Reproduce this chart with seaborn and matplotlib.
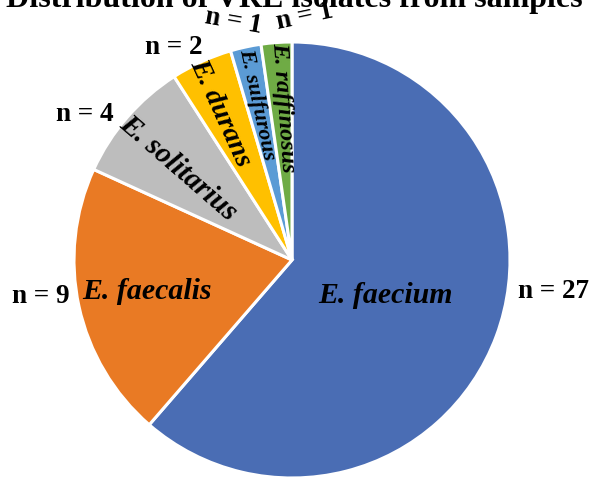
import numpy as np
import matplotlib
matplotlib.use("Agg")
import matplotlib.pyplot as plt
import seaborn as sns

# VRE isolate counts per Enterococcus species
species = ["E. faecium", "E. faecalis", "E. solitarius", "E. durans", "E. sulfurous", "E. raffinosus"]
counts = [27, 9, 4, 2, 1, 1]
count_labels = [f"n = {c}" for c in counts]
title = "Distribution of VRE isolates from samples"

colors = ["#4A6DB4", "#E97A24", "#BDBDBD", "#FFC000", "#5B9BD5", "#6FAB45"]

# label layout: (radius fraction, angle offset in degrees, font size)
inner_layout = [(0.46, 0, 21.5), (0.68, 0, 21.5), (0.67, 2, 21), (0.75, 1.5, 20.5), (0.73, 0.5, 16), (0.70, -0.7, 17.5)]
outer_layout = [(1.21, 13.5, 0), (1.165, -3.9, 0), (1.16, 5.9, 0), (1.117, 4.5, 0), (1.125, 1.6, -10), (1.116, -7.2, 12)]

sns.set_theme(style="white")
plt.rcParams["font.family"] = ["Liberation Serif", "DejaVu Serif"]

W, H = 593, 478
fig = plt.figure(figsize=(W / 100, H / 100), dpi=100)
ax = fig.add_axes([0, 0, 1, 1])
cx, cy, R = 292, 260, 218

wedges, _ = ax.pie(counts, colors=colors, startangle=90, counterclock=False,
                   radius=1.0, wedgeprops=dict(edgecolor="white", linewidth=2.2))

# one data unit = R pixels in both directions, pie centred at (cx, cy)
ax.set_aspect("auto")
ax.set_xlim(-cx / R, (W - cx) / R)
ax.set_ylim((cy - H) / R, cy / R)
ax.axis("off")

for w, name, cnt, (ri, di, fs), (ro, do, rot) in zip(wedges, species, count_labels, inner_layout, outer_layout):
    mid = 0.5 * (w.theta1 + w.theta2)
    a = np.deg2rad(mid + di)
    # horizontal text for large slices, radial text for narrow ones
    if w.theta2 - w.theta1 > 60:
        trot = 0
    else:
        trot = mid - 180
    ax.text(ri * np.cos(a), ri * np.sin(a), name, ha="center", va="center",
            rotation=trot, rotation_mode="anchor", fontsize=fs,
            fontweight="bold", fontstyle="italic", color="black")
    b = np.deg2rad(mid + do)
    ax.text(ro * np.cos(b), ro * np.sin(b), cnt, ha="center", va="center",
            rotation=rot, rotation_mode="anchor", fontsize=19.5,
            fontweight="bold", color="black")

fig.text(294 / W, 1 - 7 / H, title, ha="center", va="baseline",
         fontsize=23, fontweight="bold", color="black")

fig.savefig("out.png", dpi=100, facecolor="white")
